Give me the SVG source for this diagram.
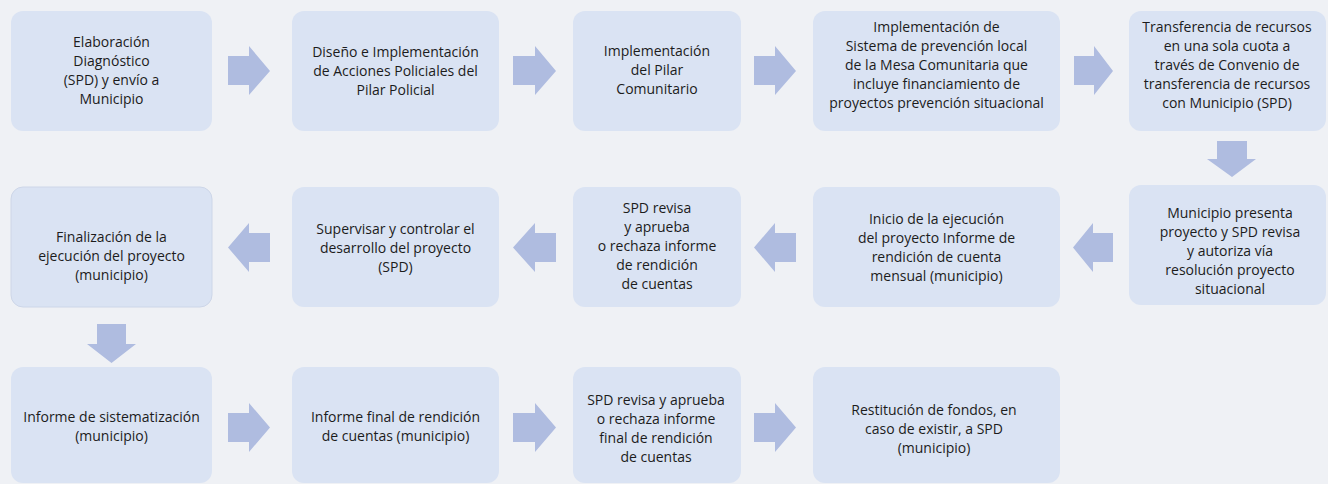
<svg xmlns="http://www.w3.org/2000/svg" width="1328" height="484" viewBox="0 0 1328 484">
<style>
.bx{fill:#DAE3F3;}
.ar{fill:#AFBCE0;}
.t{font-family:"Open Sans","Liberation Sans",sans-serif;font-size:14px;fill:#1c1c1c;text-anchor:middle;}
</style>
<rect width="1328" height="484" fill="#EFF1F5"/>
<g id="connectors">
<polygon class="ar" points="228,56 249,56 249,46 270,71 249,95 249,85 228,85"/>
<polygon class="ar" points="513,56 535,56 535,46 556,71 535,95 535,85 513,85"/>
<polygon class="ar" points="754,56 775,56 775,46 796,71 775,95 775,85 754,85"/>
<polygon class="ar" points="1074,56 1094,56 1094,46 1113,71 1094,95 1094,85 1074,85"/>
<polygon class="ar" points="1217,141 1247,141 1247,159 1256,159 1232,177 1207,159 1217,159"/>
<polygon class="ar" points="1113,233 1093,233 1093,223 1073,247.5 1093,272 1093,262 1113,262"/>
<polygon class="ar" points="796,233 775,233 775,223 754,247.5 775,272 775,262 796,262"/>
<polygon class="ar" points="556,233 535,233 535,223 513,247.5 535,272 535,262 556,262"/>
<polygon class="ar" points="270,233 249,233 249,223 228,247.5 249,272 249,262 270,262"/>
<polygon class="ar" points="97,324 126,324 126,344 136,344 111.5,363 87,344 97,344"/>
<polygon class="ar" points="228,413 249,413 249,403 270,427.5 249,452 249,442 228,442"/>
<polygon class="ar" points="513,413 535,413 535,403 556,427.5 535,452 535,442 513,442"/>
<polygon class="ar" points="754,413 775,413 775,403 796,427.5 775,452 775,442 754,442"/>
</g>
<g id="n1"><rect class="bx" x="11" y="11" width="201" height="120" rx="12"/>
<text class="t"><tspan x="111.5" y="47">Elaboración</tspan><tspan x="111.5" y="66">Diagnóstico</tspan><tspan x="111.5" y="85">(SPD) y envío a</tspan><tspan x="111.5" y="104">Municipio</tspan></text></g>
<g id="n2"><rect class="bx" x="292" y="11" width="207" height="120" rx="12"/>
<text class="t"><tspan x="395.5" y="57">Diseño e Implementación</tspan><tspan x="395.5" y="76">de Acciones Policiales del</tspan><tspan x="395.5" y="95">Pilar Policial</tspan></text></g>
<g id="n3"><rect class="bx" x="573" y="11" width="168" height="120" rx="12"/>
<text class="t"><tspan x="657" y="56">Implementación</tspan><tspan x="657" y="75">del Pilar</tspan><tspan x="657" y="94">Comunitario</tspan></text></g>
<g id="n4"><rect class="bx" x="813" y="11" width="247" height="120" rx="12"/>
<text class="t"><tspan x="936.5" y="32">Implementación de</tspan><tspan x="936.5" y="51">Sistema de prevención local</tspan><tspan x="936.5" y="70">de la Mesa Comunitaria que</tspan><tspan x="936.5" y="89">incluye financiamiento de</tspan><tspan x="936.5" y="108">proyectos prevención situacional</tspan></text></g>
<g id="n5"><rect class="bx" x="1129" y="11" width="197" height="120" rx="12"/>
<text class="t"><tspan x="1227" y="32">Transferencia de recursos</tspan><tspan x="1227" y="51">en una sola cuota a</tspan><tspan x="1227" y="70">través de Convenio de</tspan><tspan x="1227" y="89">transferencia de recursos</tspan><tspan x="1227" y="108">con Municipio (SPD)</tspan></text></g>
<g id="n6"><rect class="bx" x="1129" y="185" width="197" height="120" rx="12"/>
<text class="t"><tspan x="1230" y="218">Municipio presenta</tspan><tspan x="1230" y="237">proyecto y SPD revisa</tspan><tspan x="1230" y="256">y autoriza vía</tspan><tspan x="1230" y="275">resolución proyecto</tspan><tspan x="1230" y="294">situacional</tspan></text></g>
<g id="n7"><rect class="bx" x="813" y="187" width="247" height="120" rx="12"/>
<text class="t"><tspan x="936.5" y="224">Inicio de la ejecución</tspan><tspan x="936.5" y="243">del proyecto Informe de</tspan><tspan x="936.5" y="262">rendición de cuenta</tspan><tspan x="936.5" y="281">mensual (municipio)</tspan></text></g>
<g id="n8"><rect class="bx" x="573" y="187" width="168" height="120" rx="12"/>
<text class="t"><tspan x="657" y="213">SPD revisa</tspan><tspan x="657" y="232">y aprueba</tspan><tspan x="657" y="251">o rechaza informe</tspan><tspan x="657" y="270">de rendición</tspan><tspan x="657" y="289">de cuentas</tspan></text></g>
<g id="n9"><rect class="bx" x="292" y="187" width="207" height="120" rx="12"/>
<text class="t"><tspan x="395.5" y="234">Supervisar y controlar el</tspan><tspan x="395.5" y="253">desarrollo del proyecto</tspan><tspan x="395.5" y="272">(SPD)</tspan></text></g>
<g id="n10"><rect class="bx" x="11" y="187" width="201" height="120" rx="12" stroke="#CDD6E8" stroke-width="1"/>
<text class="t"><tspan x="111.5" y="242">Finalización de la</tspan><tspan x="111.5" y="261">ejecución del proyecto</tspan><tspan x="111.5" y="280">(municipio)</tspan></text></g>
<g id="n11"><rect class="bx" x="11" y="367" width="201" height="116" rx="12"/>
<text class="t"><tspan x="111.5" y="422">Informe de sistematización</tspan><tspan x="111.5" y="441">(municipio)</tspan></text></g>
<g id="n12"><rect class="bx" x="292" y="367" width="207" height="116" rx="12"/>
<text class="t"><tspan x="395.5" y="422">Informe final de rendición</tspan><tspan x="395.5" y="441">de cuentas (municipio)</tspan></text></g>
<g id="n13"><rect class="bx" x="573" y="367" width="168" height="116" rx="12"/>
<text class="t"><tspan x="656" y="405">SPD revisa y aprueba</tspan><tspan x="656" y="424">o rechaza informe</tspan><tspan x="656" y="443">final de rendición</tspan><tspan x="656" y="462">de cuentas</tspan></text></g>
<g id="n14"><rect class="bx" x="813" y="367" width="247" height="116" rx="12"/>
<text class="t"><tspan x="934" y="415">Restitución de fondos, en</tspan><tspan x="934" y="434">caso de existir, a SPD</tspan><tspan x="934" y="453">(municipio)</tspan></text></g>
</svg>
